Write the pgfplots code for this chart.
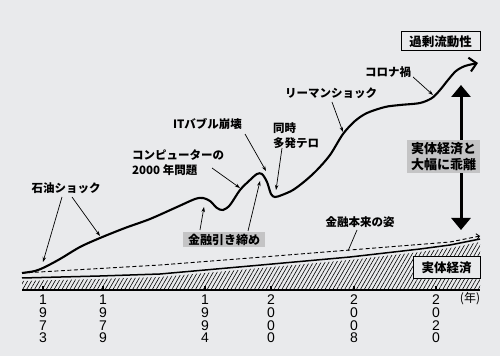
\documentclass[border=0pt]{standalone}
\usepackage{pgfplots}
\pgfplotsset{compat=1.18}
\usepackage{fontspec}
\setmainfont{Noto Sans CJK JP}
\newfontfamily\digitfont{Liberation Sans}
\usetikzlibrary{arrows.meta,patterns.meta}
\definecolor{paper}{RGB}{233,234,236}
\definecolor{boxgray}{RGB}{196,196,197}
\newcommand{\lab}{\bfseries\fontsize{11.5}{15}\selectfont}
\newcommand{\boxf}{\bfseries\fontsize{12.5}{15}\selectfont}
\newcommand{\yr}{\digitfont\fontsize{14}{12.6}\selectfont}
\begin{document}
\begin{tikzpicture}
\begin{axis}[
  width=500pt, height=356pt, scale only axis,
  xmin=0, xmax=500, ymin=-66, ymax=290,
  hide axis, clip=false,
]
\fill[paper] (axis cs:0,-66) rectangle (axis cs:500,290);
% real economy (hatched)
\addplot[draw=none, pattern={Lines[angle=60,distance=3.4pt,line width=0.6pt]}] coordinates {(22,0) (22,9) (100,11) (160,13) (250,21) (350,30) (420,38) (450,42) (480,48) (480,0)} -- cycle;
\addplot[line width=1.5pt] coordinates {(22,12) (100,14) (160,16) (250,24) (350,33) (420,41) (450,45) (480,51)};
% baseline and ticks
\addplot[line width=1.6pt] coordinates {(22,0) (480,0)};
\addplot[ycomb, line width=1.2pt, mark=none] coordinates {(43,4) (103,4) (205,4) (271,4) (354,4) (436,4)};
% dashed: finance as it should be
\addplot[line width=0.9pt, dash pattern=on 4pt off 2.5pt, -{Straight Barb[length=3pt,width=6pt]}] coordinates {(22,17) (160,25) (250,32) (350,40) (450,48) (480,54)};
% excess liquidity
\addplot[line width=2.1pt, smooth, tension=0.5, -{Straight Barb[length=7pt,width=14pt]}] coordinates {
(22,17) (35,19) (45,23) (60,31) (80,43) (100,52) (125,62) (150,71) (177,83) (195,91) (203,92) (210,89) (217,82) (223,80) (230,85) (240,100) (250,110) (257,116) (262,116) (267,108) (271,96) (275,93) (282,95) (293,100) (305,109) (317,120) (330,135) (343,156) (355,169) (367,177) (385,183) (400,185) (420,187) (432,192) (440,200) (448,210) (456,219) (465,224) (478,227)};
% big double arrow
\draw[line width=3pt, {Triangle[width=19pt,length=12pt]}-{Triangle[width=19pt,length=12pt]}] (axis cs:461,205) -- (axis cs:461,60);
% annotations
\node[font=\lab] at (axis cs:66,102) {石油ショック};
\draw[line width=0.7pt, -{Stealth[length=5pt,width=3.5pt]}] (axis cs:62,93) -- (axis cs:43,28);
\draw[line width=0.7pt, -{Stealth[length=5pt,width=3.5pt]}] (axis cs:72,93) -- (axis cs:100,54);
\node[font=\lab, anchor=north west, align=left, inner sep=0pt] at (axis cs:132,140) {コンピューターの\\2000 年問題};
\draw[line width=0.7pt, -{Stealth[length=5pt,width=3.5pt]}] (axis cs:212,122) -- (axis cs:240,102);
\node[font=\lab] at (axis cs:207.5,166) {ITバブル崩壊};
\draw[line width=0.7pt, -{Stealth[length=5pt,width=3.5pt]}] (axis cs:245,156) -- (axis cs:266,119);
\node[font=\lab, anchor=north west, align=left, inner sep=0pt] at (axis cs:273,168) {同時\\多発テロ};
\draw[line width=0.7pt, -{Stealth[length=5pt,width=3.5pt]}] (axis cs:282,142) -- (axis cs:276,100);
\node[font=\lab] at (axis cs:331,197) {リーマンショック};
\draw[line width=0.7pt, -{Stealth[length=5pt,width=3.5pt]}] (axis cs:332,188) -- (axis cs:343,158);
\node[font=\lab] at (axis cs:388,218) {コロナ禍};
\draw[line width=0.7pt, -{Stealth[length=5pt,width=3.5pt]}] (axis cs:413,213) -- (axis cs:433,195);
\node[font=\lab] at (axis cs:360,68) {金融本来の姿};
\draw[line width=0.7pt] (axis cs:357,60) -- (axis cs:348,39);
\node[fill=boxgray, font=\fontsize{12}{15}\bfseries\selectfont, minimum width=82pt, minimum height=15pt, inner sep=0pt] at (axis cs:224,50.5) {金融引き締め};
\draw[line width=0.7pt, -{Stealth[length=5pt,width=3.5pt]}] (axis cs:200,60) -- (axis cs:204,83);
\draw[line width=0.7pt, -{Stealth[length=5pt,width=3.5pt]}] (axis cs:248,59) -- (axis cs:260,109);
\node[draw, line width=1pt, fill=paper, font=\boxf, minimum width=79pt, minimum height=19pt, inner sep=0pt] at (axis cs:440.5,248.5) {過剰流動性};
\node[fill=boxgray, font=\bfseries\fontsize{13}{16}\selectfont, align=center, minimum width=73pt, minimum height=33pt, inner sep=0pt] at (axis cs:443.5,133.5) {実体経済と\\大幅に乖離};
\node[draw, line width=1pt, fill=paper, font=\boxf, minimum width=67pt, minimum height=21pt, inner sep=0pt] at (axis cs:446.5,22.5) {実体経済};
% years
\node[anchor=north, font=\yr, align=center, inner sep=0pt] at (axis cs:43,-5) {1\\9\\7\\3};
\node[anchor=north, font=\yr, align=center, inner sep=0pt] at (axis cs:103,-5) {1\\9\\7\\9};
\node[anchor=north, font=\yr, align=center, inner sep=0pt] at (axis cs:205,-5) {1\\9\\9\\4};
\node[anchor=north, font=\yr, align=center, inner sep=0pt] at (axis cs:271,-5) {2\\0\\0\\0};
\node[anchor=north, font=\yr, align=center, inner sep=0pt] at (axis cs:354,-5) {2\\0\\0\\8};
\node[anchor=north, font=\yr, align=center, inner sep=0pt] at (axis cs:436,-5) {2\\0\\2\\0};
\node[font=\fontsize{12}{14}\selectfont] at (axis cs:470,-9) {(年)};
\end{axis}
\end{tikzpicture}
\end{document}
